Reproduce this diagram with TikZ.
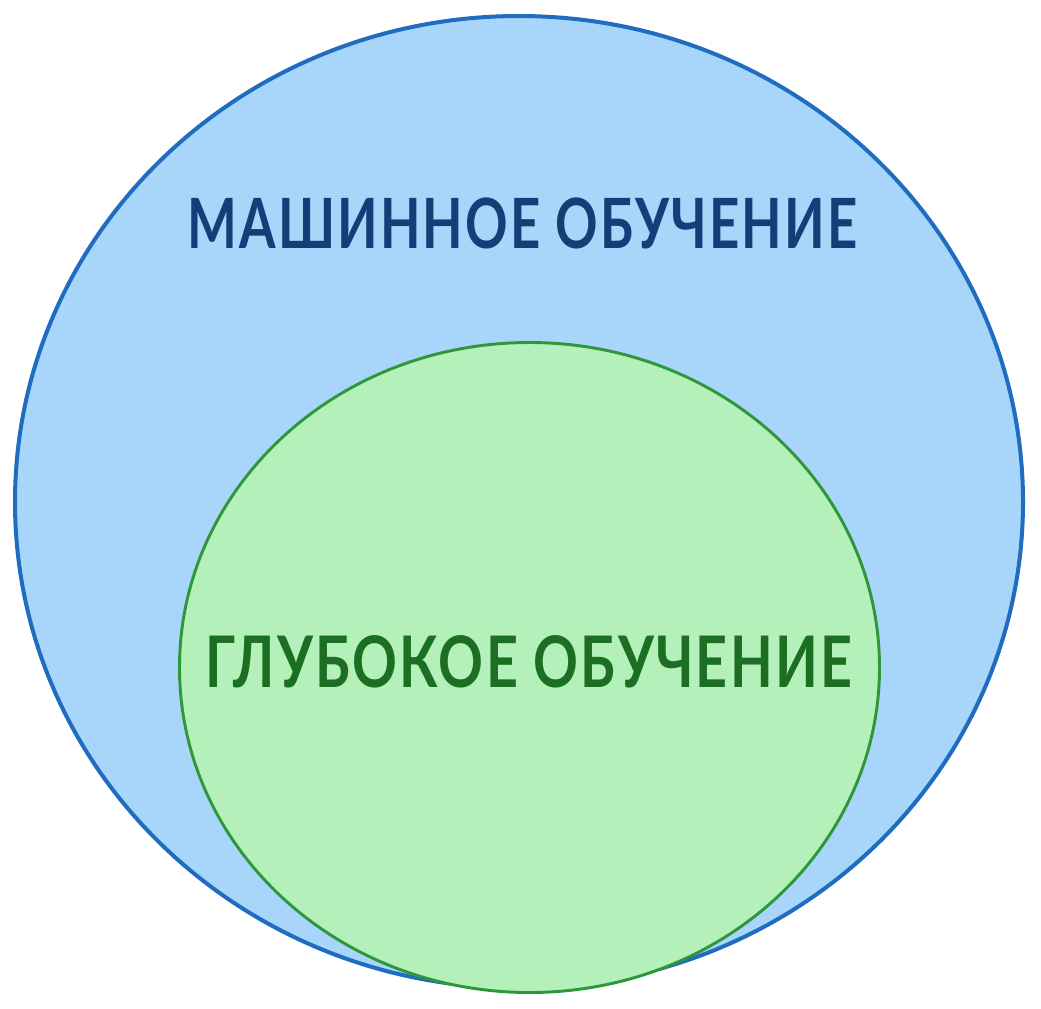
\documentclass[tikz,border=0pt]{standalone}
\usepackage{fontspec}
\setmainfont{Lato}
\usepackage{tikz}
\usetikzlibrary{shapes.geometric}
\pgfdeclarelayer{edgelayer}
\pgfdeclarelayer{nodelayer}
\pgfsetlayers{edgelayer,nodelayer,main}
\definecolor{mlfill}{HTML}{A8D6FA}
\definecolor{mldraw}{HTML}{1F6CC0}
\definecolor{mltext}{HTML}{123F78}
\definecolor{dlfill}{HTML}{B4F0B9}
\definecolor{dldraw}{HTML}{2F973A}
\definecolor{dltext}{HTML}{1B6E22}
\tikzstyle{outer}=[ellipse,fill=mlfill,draw=mldraw,line width=3pt,inner sep=0pt,minimum width=756pt,minimum height=729pt]
\tikzstyle{inner}=[ellipse,fill=dlfill,draw=dldraw,line width=2.2pt,inner sep=0pt,minimum width=525pt,minimum height=487.5pt]
\tikzstyle{mllabel}=[text=mltext,inner sep=0pt,font=\bfseries\addfontfeature{LetterSpace=4}]
\tikzstyle{dllabel}=[text=dltext,inner sep=0pt,font=\bfseries\addfontfeature{LetterSpace=4}]
\begin{document}
\begin{tikzpicture}[x=0.75pt,y=-0.75pt]
					\useasboundingbox (0.000,0.000) rectangle (1041.000,1008.000);
					\begin{pgfonlayer}{edgelayer}
						\node [style=outer] (0) at (519.000,502.000) {};
						\node [style=inner] (1) at (529.500,667.500) {};
					\end{pgfonlayer}
					\begin{pgfonlayer}{nodelayer}
						\node [style=mllabel] (2) at (522.500,223.000) {\resizebox{502pt}{38pt}{МАШИННОЕ ОБУЧЕНИЕ}};
						\node [style=dllabel] (3) at (528.500,662.000) {\resizebox{485pt}{39pt}{ГЛУБОКОЕ ОБУЧЕНИЕ}};
					\end{pgfonlayer}
				\end{tikzpicture}
\end{document}
